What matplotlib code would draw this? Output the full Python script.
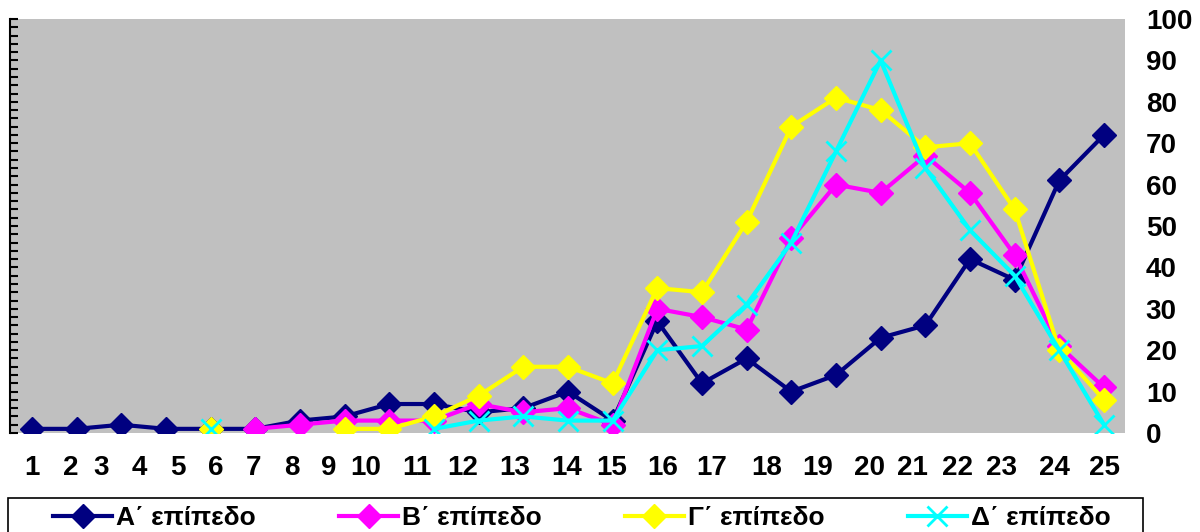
import numpy as np
import matplotlib.pyplot as plt
from matplotlib.patches import Rectangle
from matplotlib.ticker import MultipleLocator

plt.rcParams['font.family'] = ['Liberation Sans', 'DejaVu Sans']
plt.rcParams['font.weight'] = 'bold'

nan = np.nan
days = list(range(1, 26))
day_labels = [str(d) for d in days]
# where the category labels sit (the labels are not under the points in the original)
label_pos = [1.0, 1.87, 2.54, 3.40, 4.27, 5.12, 5.95, 6.82, 7.65, 8.48, 9.62, 10.65, 11.81,
             12.98, 13.98, 15.13, 16.22, 17.45, 18.60, 19.76, 20.72, 21.73, 22.71, 23.90, 25.02]

level_a = [1, 1, 2, 1, 1, 1, 3, 4, 7, 7, 5, 6, 10, 3, 27, 12, 18, 10, 14, 23, 26, 42, 37, 61, 72]
level_b = [nan] * 5 + [1, 2, 3, 3, 3, 7, 5, 6, 2, 30, 28, 25, 47, 60, 58, 67, 58, 43, 21, 11]
level_c = [nan, nan, nan, nan, 1, nan, nan, 1, 1, 4, 9, 16, 16, 12, 35, 34, 51, 74, 81, 78,
           69, 70, 54, 20, 8]
level_d = [nan, nan, nan, nan, 1, nan, nan, nan, nan, 1, 3, 4, 3, 3, 20, 21, 31, 46, 68, 90,
           64, 49, 38, 20, 2]
names = ['Α΄ επίπεδο', 'Β΄ επίπεδο', 'Γ΄ επίπεδο', 'Δ΄ επίπεδο']

fig = plt.figure(figsize=(12, 5.32), dpi=100)
ax = fig.add_axes([10 / 1200, 1 - 433 / 532, 1115 / 1200, 414 / 532])
ax.set_facecolor('#c0c0c0')

ax.plot(days, level_a, color='#000080', lw=3, marker='D', ms=12, label=names[0])
ax.plot(days, level_b, color='#ff00ff', lw=3, marker='D', ms=12, label=names[1])
ax.plot(days, level_c, color='#ffff00', lw=3, marker='D', ms=12, label=names[2])
ax.plot(days, level_d, color='#00ffff', lw=3, marker='x', ms=15, mew=2, label=names[3])

ax.set_xlim(0.51, 25.47)
ax.set_ylim(0, 100)

for s in ['top', 'right', 'bottom']:
    ax.spines[s].set_visible(False)
ax.spines['left'].set_linewidth(1.5)

ax.set_xticks(label_pos, day_labels)
ax.tick_params(axis='x', length=0, pad=16, labelsize=20)

ax.yaxis.set_major_locator(MultipleLocator(10))
ax.yaxis.set_minor_locator(MultipleLocator(2))
ax.tick_params(axis='y', which='both', left=True, right=False, labelleft=False,
               labelright=True, direction='in', length=6, width=1.5, pad=15, labelsize=20)

# legend box runs off the bottom of the picture
fig.patches.append(Rectangle((8 / 1200, -0.05), 1135 / 1200, 0.05 + (532 - 498) / 532,
                             transform=fig.transFigure, fill=False, ec='black', lw=1.2))
fig.legend(loc='center left', bbox_to_anchor=(53 / 1200, 1 - 518 / 532), ncol=4,
           frameon=False, fontsize=19, handlelength=2.24, handletextpad=0.15,
           columnspacing=3.15, borderpad=0, borderaxespad=0)

fig.savefig('out.png', dpi=100)
